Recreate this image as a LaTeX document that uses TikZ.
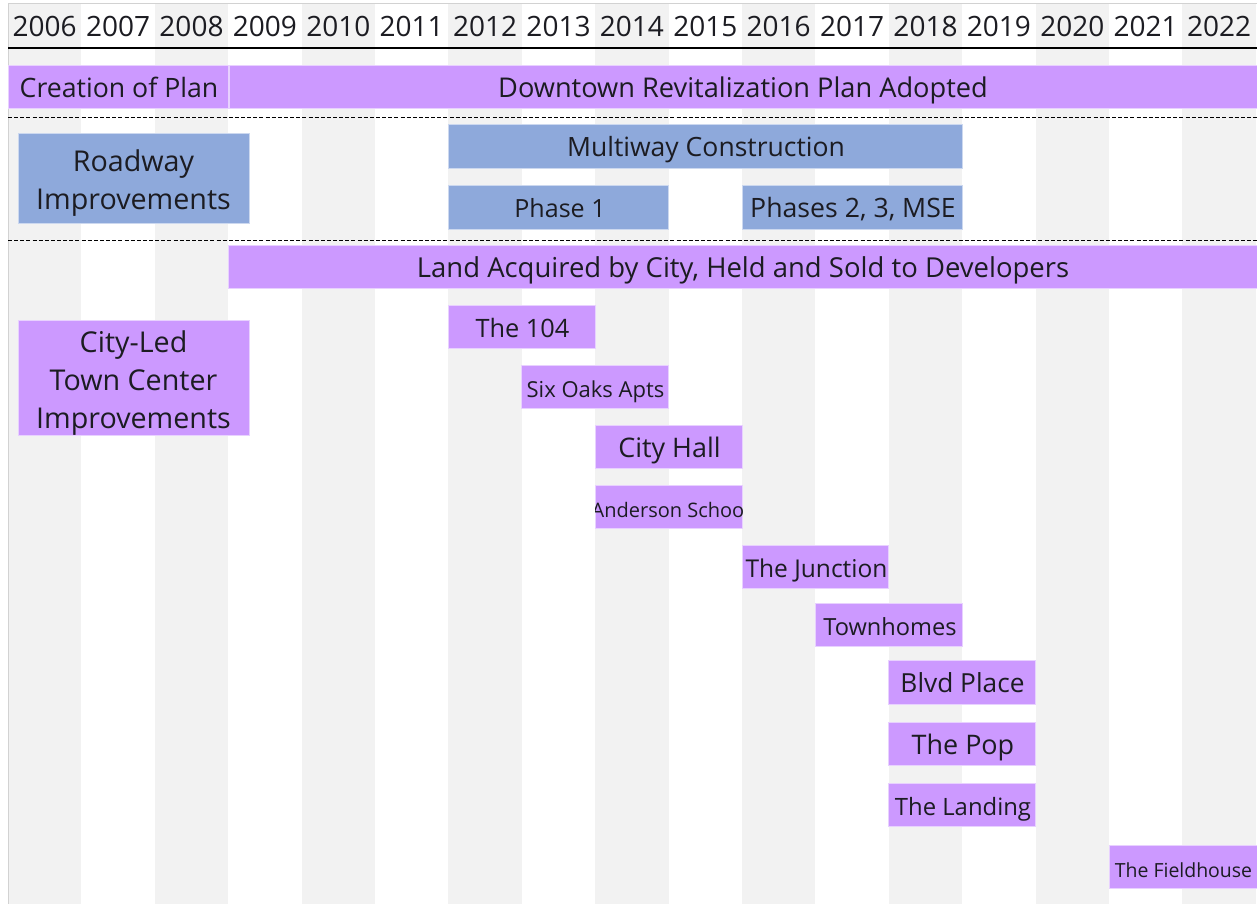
\documentclass[tikz,border=0pt]{standalone}
\usepackage{fontspec}
\setmainfont{Open Sans}
\usepackage{tikz}
\usetikzlibrary{calc}

\definecolor{barpurple}{RGB}{204,153,255}
\definecolor{barblue}{RGB}{142,169,219}
\definecolor{stripegray}{RGB}{242,242,242}
\definecolor{textdark}{RGB}{28,28,34}
\newcommand{\fsz}[1]{\fontsize{#1}{#1}\selectfont}

\begin{document}
\begin{tikzpicture}[x=0.75pt,y=0.75pt,yscale=-1,xscale=1,
    stripe/.style={fill=stripegray},
    purplebar/.style={fill=barpurple, draw=barpurple!45, line width=0.75pt},
    bluebar/.style={fill=barblue, draw=barblue!45, line width=0.75pt},
    year/.style={font=\fsz{21}, text=textdark, inner sep=0pt, text height=0.714em, text depth=0pt, yshift=-4.5pt},
    lbl/.style={font=\fsz{20}, text=textdark, inner sep=0pt, text height=0.714em, text depth=0pt, yshift=-4pt},
    biglbl/.style={font=\fontsize{21.5}{28.5}\selectfont, text=textdark, inner sep=0pt, align=center, yshift=-3pt},
    divider/.style={dash pattern=on 3pt off 1.6pt, line width=1.4pt}]
        \useasboundingbox (0,0) rectangle (1257,904);
        %Shape: Column stripes
        \foreach \i in {0,2,...,16}
            \fill [stripe] ({8+73.4*\i},3) rectangle ++(73.4,901);
        %Straight Lines: borders
        \draw [gray!35, line width=0.75pt] (8,3) -- (1257,3);
        \draw [gray!35, line width=0.75pt] (8,3) -- (8,904);
        % Text Node: years
        \foreach \yr [count=\i from 0] in {2006,...,2022}
            \node [year] (y\yr) at ({8+73.4*\i+36.7},26) {\yr};
        %Straight Lines
        \draw [line width=1.5pt] (8,47.5) -- (1257,47.5);

        %Shape: Rectangle
        \draw [purplebar] (8,65) rectangle (228,108);
        \draw [purplebar] (229.5,65) rectangle (1257,108);
        % Text Node
        \node [lbl] (creation) at (119,87) {Creation of Plan};
        \node [lbl, font=\fsz{20.4}] (downtown) at (743,87) {Downtown Revitalization Plan Adopted};
        %Straight Lines [dashed]
        \draw [divider] (8,117.5) -- (1257,117.5);

        %Shape: Rectangle [roadway]
        \draw [bluebar] (18,133) rectangle (249,223);
        \draw [bluebar] (448.4,124) rectangle (962.2,168);
        \draw [bluebar] (448.4,185) rectangle (668.6,229);
        \draw [bluebar] (742,185) rectangle (962.2,229);
        % Text Node
        \node [biglbl, yshift=-1pt] (roadway) at (133.5,178) {Roadway\\Improvements};
        \node [lbl, font=\fsz{19.9}] (multiway) at (706,146) {Multiway Construction};
        \node [lbl, font=\fsz{18.8}] (phaseone) at (560,207) {Phase 1};
        \node [lbl] (phasestwo) at (853,207) {Phases 2, 3, MSE};
        %Straight Lines [dashed]
        \draw [divider] (8,240.5) -- (1257,240.5);

        %Shape: Rectangle [land]
        \draw [purplebar] (228.2,245) rectangle (1257,288);
        \node [lbl, font=\fsz{20.6}] (land) at (743,267) {Land Acquired by City, Held and Sold to Developers};
        %Shape: Rectangle [city-led]
        \draw [purplebar] (18,320) rectangle (249,435);
        \node [biglbl] (cityled) at (133.5,379) {City-Led\\Town Center\\Improvements};

        %Shape: Rectangle [projects]
        \draw [purplebar] (448.4,305) rectangle (595.2,348);
        \node [lbl, font=\fsz{19}] (t104) at (522.5,327) {The 104};
        \draw [purplebar] (521.8,365) rectangle (668.6,408);
        \node [lbl, font=\fsz{16.5}] (sixoaks) at (595.5,387) {Six Oaks Apts};
        \draw [purplebar] (595.2,425) rectangle (742,468);
        \node [lbl, font=\fsz{20.2}] (cityhall) at (669.5,447) {City Hall};
        \draw [purplebar] (595.2,485) rectangle (742,528);
        \begin{scope}
            \clip (595.2,485) rectangle (742,528);
            \node [lbl, font=\fsz{15}] (anderson) at (670.5,507) {Anderson School};
        \end{scope}
        \draw [purplebar] (742,545) rectangle (888.8,588);
        \node [lbl, font=\fsz{18.4}] (junction) at (816.5,567) {The Junction};
        \draw [purplebar] (815.4,603) rectangle (962.2,646);
        \node [lbl, font=\fsz{17.7}] (townhomes) at (890,625) {Townhomes};
        \draw [purplebar] (888.8,660) rectangle (1035.6,704);
        \node [lbl, font=\fsz{19.7}] (blvd) at (962.5,682) {Blvd Place};
        \draw [purplebar] (888.8,722) rectangle (1035.6,765);
        \node [lbl, font=\fsz{20.2}] (pop) at (963,744) {The Pop};
        \draw [purplebar] (888.8,783) rectangle (1035.6,826);
        \node [lbl, font=\fsz{17.9}] (landing) at (963,805) {The Landing};
        \draw [purplebar] (1109,845) rectangle (1257,888);
        \node [lbl, font=\fsz{14.6}] (fieldhouse) at (1183.5,867) {The Fieldhouse};
\end{tikzpicture}
\end{document}
